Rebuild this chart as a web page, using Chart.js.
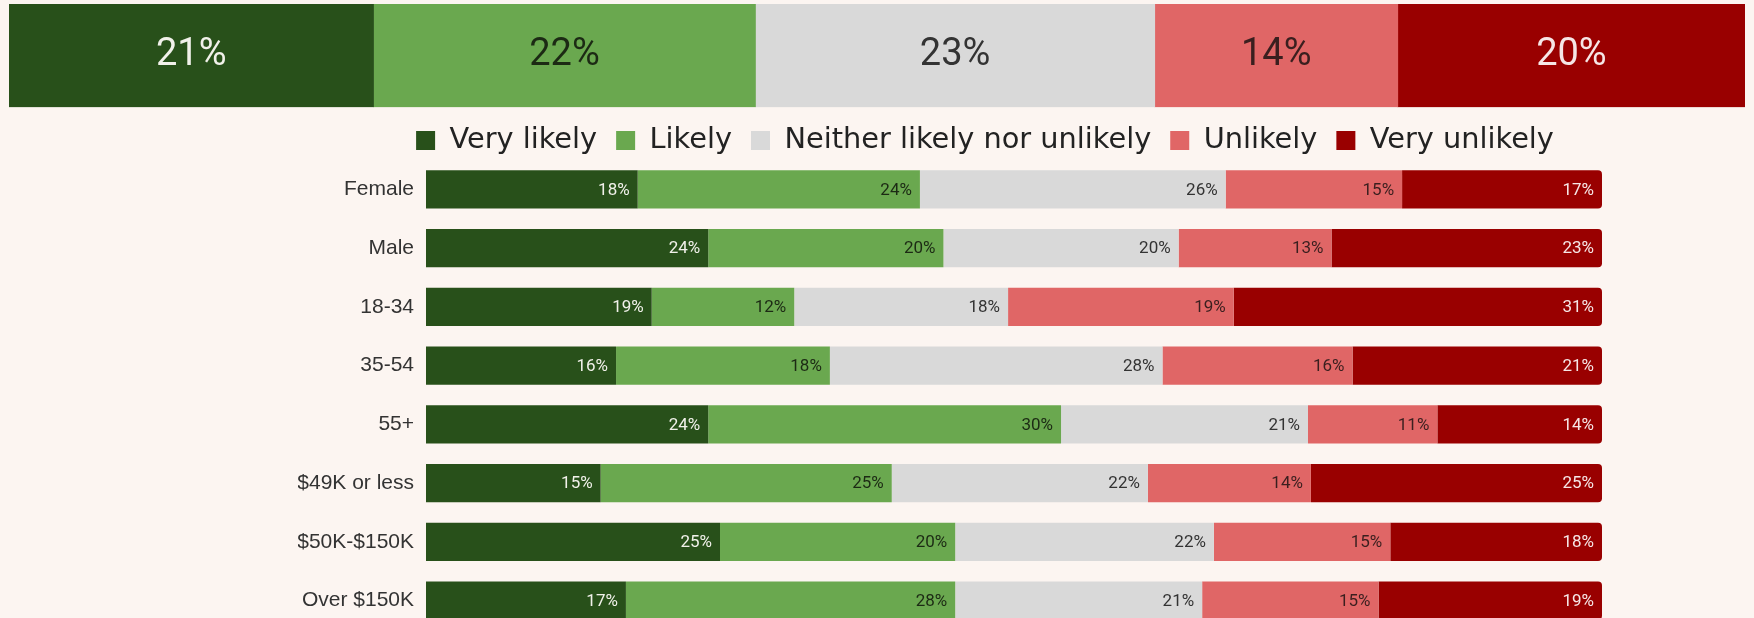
<!DOCTYPE html>
<html>
<head>
<meta charset="utf-8">
<title>Likelihood by group</title>
<script src="https://cdn.jsdelivr.net/npm/chart.js@4.4.1/dist/chart.umd.min.js"></script>
<style>
  html, body { margin: 0; padding: 0; background: #fcf5f1; overflow: hidden; }
  body { width: 1754px; height: 618px; position: relative; }
  #totalWrap { position: absolute; left: 0; top: 0; width: 1961px; height: 165px; }
  #groupWrap { position: absolute; left: 0; top: 150px; width: 1754px; height: 485px; }
</style>
</head>
<body>
<div id="totalWrap"><canvas id="totalChart"></canvas></div>
<div id="groupWrap"><canvas id="groupChart"></canvas></div>
<script>
// answer options, in stack order
const seriesNames = ['Very likely', 'Likely', 'Neither likely nor unlikely', 'Unlikely', 'Very unlikely'];

// overall split (top bar)
const overall = [21, 22, 23, 14, 20];

// groups (rows)
const groups = ['Female', 'Male', '18-34', '35-54', '55+', '$49K or less', '$50K-$150K', 'Over $150K'];

// percentages per answer, one value per group
const veryLikely   = [18, 24, 19, 16, 24, 15, 25, 17];
const likely       = [24, 20, 12, 18, 30, 25, 20, 28];
const neither      = [26, 20, 18, 28, 21, 22, 22, 21];
const unlikely     = [15, 13, 19, 16, 11, 14, 15, 15];
const veryUnlikely = [17, 23, 31, 21, 14, 25, 18, 19];

const colors = ['#28501a', '#6aa84f', '#d9d9d9', '#e06666', '#990000'];
const textColors = ['#f1f1ea', '#1c2a14', '#333333', '#3a1f1f', '#f6e6e6'];

const series = [veryLikely, likely, neither, unlikely, veryUnlikely];

// rows don't always add to exactly 100, so stretch each one to the full width
const rowTotals = groups.map((g, j) => series.reduce((s, arr) => s + arr[j], 0));

// draws the percentage text on each segment
function barLabels(id, font, centered, textFor) {
  return {
    id: id,
    afterDatasetsDraw(chart) {
      const ctx = chart.ctx;
      ctx.save();
      ctx.font = font;
      ctx.textBaseline = 'middle';
      chart.data.datasets.forEach((ds, i) => {
        chart.getDatasetMeta(i).data.forEach((bar, j) => {
          ctx.fillStyle = textColors[i];
          if (centered) {
            ctx.textAlign = 'center';
            ctx.fillText(textFor(i, j), (bar.x + bar.base) / 2, bar.y);
          } else {
            ctx.textAlign = 'right';
            ctx.fillText(textFor(i, j), bar.x - 8, bar.y + 1);
          }
        });
      });
      ctx.restore();
    }
  };
}

// top bar: whole sample, legend underneath it
new Chart(document.getElementById('totalChart'), {
  type: 'bar',
  data: {
    labels: ['All'],
    datasets: seriesNames.map((name, i) => ({
      label: name,
      data: [overall[i]],
      backgroundColor: colors[i],
      borderWidth: 0,
      barPercentage: 1,
      categoryPercentage: 1
    }))
  },
  options: {
    indexAxis: 'y',
    responsive: true,
    maintainAspectRatio: false,
    animation: false,
    layout: { padding: { left: 9, right: 0, top: 4, bottom: 0 } },
    scales: {
      x: { stacked: true, display: false, min: 0, max: 100 },
      y: { stacked: true, display: false },
      // empty spacer past the page edge so the legend is centred like the original
      spacer: {
        type: 'category',
        position: 'right',
        grid: { display: false, drawTicks: false },
        border: { display: false },
        ticks: { display: false },
        afterFit(scale) {
          scale.width = 216;
        }
      }
    },
    plugins: {
      legend: {
        position: 'bottom',
        labels: {
          boxWidth: 19,
          boxHeight: 19,
          padding: 19,
          color: '#222',
          font: { family: 'DejaVu Sans', size: 28.8 }
        }
      },
      tooltip: { enabled: false }
    }
  },
  plugins: [barLabels('totalLabels', '38px Roboto', true, (i) => overall[i] + '%')]
});

// group bars
new Chart(document.getElementById('groupChart'), {
  type: 'bar',
  data: {
    labels: groups,
    datasets: seriesNames.map((name, i) => ({
      label: name,
      data: series[i].map((v, j) => v / rowTotals[j] * 100),
      backgroundColor: colors[i],
      borderWidth: 0,
      borderRadius: i === seriesNames.length - 1 ? 4 : 0,
      borderSkipped: 'start',
      barPercentage: 0.65,
      categoryPercentage: 1
    }))
  },
  options: {
    indexAxis: 'y',
    responsive: true,
    maintainAspectRatio: false,
    animation: false,
    layout: { padding: { left: 298, right: 152, top: 10, bottom: 5 } },
    scales: {
      x: { stacked: true, display: false, min: 0, max: 100 },
      y: {
        stacked: true,
        grid: { display: false, drawTicks: false },
        border: { display: false },
        ticks: {
          padding: 12,
          color: '#333',
          font: { family: 'Liberation Sans', size: 21 }
        },
        afterFit(scale) {
          scale.width = 128;
          scale.paddingTop = 0;
          scale.paddingBottom = 0;
        }
      }
    },
    plugins: {
      legend: { display: false },
      tooltip: { enabled: false }
    }
  },
  plugins: [barLabels('groupLabels', '17px Roboto', false, (i, j) => series[i][j] + '%')]
});
</script>
</body>
</html>
